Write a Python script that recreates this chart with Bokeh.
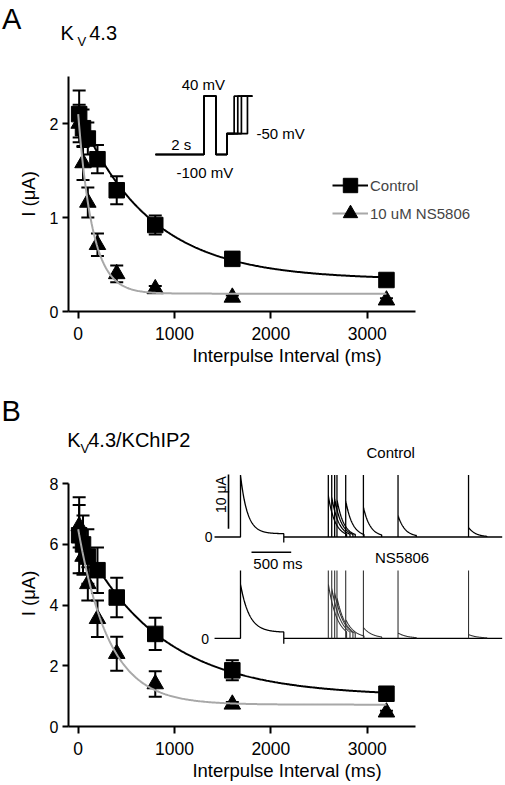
import math
import numpy as np
from bokeh.plotting import figure
from bokeh.models import (Range1d, ColumnDataSource, Whisker, TeeHead, Legend,
                          LegendItem, Label, FixedTicker)
from bokeh.layouts import column
from bokeh.embed import file_html
from bokeh.resources import INLINE

FONT = "Liberation Sans"

# ---------------- data ----------------
intervals = [10, 50, 100, 200, 400, 800, 1600, 3200]  # ms

a_control = [2.10, 1.95, 1.84, 1.62, 1.29, 0.92, 0.56, 0.335]
a_control_err = [0.25, 0.20, 0.17, 0.15, 0.15, 0.10, 0.03, 0.02]
a_ns5806 = [2.00, 1.58, 1.16, 0.71, 0.40, 0.24, 0.15, 0.12]
a_ns5806_err = [0.20, 0.18, 0.16, 0.12, 0.09, 0.03, 0.02, 0.02]

b_control = [6.30, 6.00, 5.60, 5.15, 4.25, 3.05, 1.85, 1.08]
b_control_err = [1.25, 0.95, 0.90, 0.75, 0.65, 0.53, 0.33, 0.10]
b_ns5806 = [6.60, 5.60, 4.70, 3.55, 2.40, 1.40, 0.73, 0.47]
b_ns5806_err = [0.70, 0.60, 0.55, 0.60, 0.56, 0.42, 0.08, 0.05]

# mono-exponential fits: (plateau, amplitude, tau in ms)
a_control_fit = (0.34, 1.77, 740)
a_ns5806_fit = (0.19, 1.91, 148)
b_control_fit = (1.00, 5.40, 830)
b_ns5806_fit = (0.72, 5.78, 320)

x_ticks = [0, 1000, 2000, 3000]
a_y_ticks = [0, 1, 2]
b_y_ticks = [0, 2, 4, 6, 8]
x_bounds = (-100, 3500)
a_y_bounds = (0, 2.5)
b_y_bounds = (0, 8)

# voltage protocol (inset A): times in ms, voltages in mV
prot_hold = -100
prot_step = 40
prot_pre = -50
prot_pulse = (2000, 2500)
prot_pre_start = 2950
prot_test_times = [3250, 3400, 3550, 3800]
prot_end = 4000

# current traces (inset B): times in ms, currents in uA
tr_start, tr_end = -327, 3296
cond_end = 545
test_times = [1106, 1149, 1186, 1215, 1325, 1548, 1984, 2872]
test_dur = 230
tail_dip = -1.0
ctrl_spike, ctrl_first_sus, ctrl_tau = 11.4, 0.6, 86
ctrl_test_amp = [7.6, 7.4, 7.1, 6.9, 6.7, 5.5, 4.0, 1.8]
ns_spike, ns_first_amp, ns_first_sus, ns_tau = 12.5, 10.0, 1.1, 110
ns_test_amp = [10.0, 9.3, 8.5, 7.5, 3.5, 2.0, 1.0, 0.7]
scale_i = 10     # uA
scale_t = 500    # ms


# ---------------- layout helpers (page pixels) ----------------
class PxMap:
    def __init__(self, value, pixel, ppu, vertical=False):
        self.value, self.pixel, self.ppu, self.vertical = value, pixel, ppu, vertical

    def __call__(self, p):
        d = (self.pixel - p) if self.vertical else (p - self.pixel)
        return self.value + d / self.ppu


W = 505
FRAME_L, FRAME_R = 68, 505
TA_TOP, TA_H = 0, 76
A_TOP, A_H, A_FT, A_FB = 76, 299, 76, 311
TB_TOP, TB_H = 375, 85
B_TOP, B_H, B_FT, B_FB = 460, 325, 460, 726

ident = PxMap(0, 0, 1)
mx = PxMap(0, 77.7, 0.09633)
myA = PxMap(0, A_FB, 94.0, True)
myB = PxMap(0, B_FB, 30.35, True)
m_pt = PxMap(0, 155, 0.0242)
m_pv = PxMap(-100, 154, 0.4167, True)
m_tt = PxMap(0, 240, 0.0794)
m_ci = PxMap(0, 536.5, 5.43, True)
m_ni = PxMap(0, 637.8, 5.43, True)


def title_fig(top, h):
    p = figure(width=W, height=h, x_range=Range1d(0, W), y_range=Range1d(top + h, top),
               output_backend="svg", toolbar_location=None,
               min_border_left=0, min_border_right=0, min_border_top=0,
               min_border_bottom=0, x_axis_location=None, y_axis_location=None)
    p.frame_align = False
    p.outline_line_color = None
    p.grid.visible = False
    return p


def make_fig(top, h, ft, fb, my, yticks, ybounds):
    p = figure(width=W, height=h,
               x_range=Range1d(mx(FRAME_L), mx(FRAME_R)),
               y_range=Range1d(my(fb), my(ft)),
               output_backend="svg", toolbar_location=None,
               min_border_left=FRAME_L, min_border_right=W - FRAME_R,
               min_border_top=ft - top, min_border_bottom=top + h - fb)
    p.frame_align = False
    p.outline_line_color = None
    p.grid.visible = False
    for ax in p.axis:
        ax.axis_line_width = 2
        ax.major_tick_line_width = 2
        ax.minor_tick_line_color = None
        ax.major_tick_in = 0
        ax.major_label_text_font = FONT
        ax.major_label_text_color = "black"
        ax.axis_label_text_font = FONT
        ax.axis_label_text_font_size = "18.5px"
        ax.axis_label_text_font_style = "normal"
        ax.axis_label_text_color = "black"
    p.xaxis.ticker = FixedTicker(ticks=x_ticks)
    p.xaxis.bounds = x_bounds
    p.xaxis.major_tick_out = 7
    p.xaxis.major_label_standoff = 8
    p.xaxis.major_label_text_font_size = "17.5px"
    p.xaxis.axis_label = "Interpulse Interval (ms)"
    p.xaxis.axis_label_standoff = 2
    p.yaxis.ticker = FixedTicker(ticks=yticks)
    p.yaxis.bounds = ybounds
    p.yaxis.major_tick_out = 6
    p.yaxis.major_label_standoff = 4
    p.yaxis.major_label_text_font_size = "16px"
    p.yaxis.axis_label = "I (μA)"
    p.yaxis.axis_label_standoff = 8
    return p


def add_text(p, xm, ym, px, py, text, size, xr="default", yr="default",
             align="left", angle=0.0):
    # py is the vertical centre of the text
    p.add_layout(Label(x=xm(px), y=ym(py), x_range_name=xr, y_range_name=yr,
                       text=text, text_font=FONT, text_font_size=size,
                       text_align=align, text_baseline="middle", angle=angle,
                       text_color="black"))


def fit_curve(params):
    c, a, tau = params
    xs = np.linspace(0, intervals[-1], 300)
    return xs, c + a * np.exp(-xs / tau)


def plot_series(p, ctrl, ctrl_err, ns, ns_err, ctrl_fit, ns_fit):
    for vals, errs in ((ctrl, ctrl_err), (ns, ns_err)):
        src = ColumnDataSource(dict(x=intervals,
                                    upper=[v + e for v, e in zip(vals, errs)],
                                    lower=[v - e for v, e in zip(vals, errs)]))
        p.add_layout(Whisker(base="x", upper="upper", lower="lower", source=src,
                             line_width=2, line_color="black",
                             upper_head=TeeHead(size=13, line_width=2, line_color="black"),
                             lower_head=TeeHead(size=13, line_width=2, line_color="black")))
    sc_c = p.scatter(intervals, ctrl, marker="square", size=15.5, color="black")
    sc_n = p.scatter(intervals, ns, marker="triangle", size=16.5, color="black")
    fx, fy = fit_curve(ctrl_fit)
    ln_c = p.line(fx, fy, line_width=2, color="black")
    fx, fy = fit_curve(ns_fit)
    ln_n = p.line(fx, fy, line_width=2, color="#a8a8a8")
    return sc_c, sc_n, ln_c, ln_n


def legend_row(label, renderers, y):
    return Legend(items=[LegendItem(label=label, renderers=renderers)],
                  location=(264, y), glyph_width=36, glyph_height=36,
                  padding=0, margin=0, label_standoff=2,
                  label_text_font=FONT, label_text_font_size="15px",
                  background_fill_alpha=0, border_line_color=None)


# ---------------- Title A ----------------
tA = title_fig(TA_TOP, TA_H)
add_text(tA, ident, ident, 1.5, 18.7, "A", "29px")
add_text(tA, ident, ident, 60, 32.7, "K", "20px")
add_text(tA, ident, ident, 77, 40.5, "V", "13px")
add_text(tA, ident, ident, 88.7, 32.7, "4.3", "20px")

# ---------------- Panel A ----------------
pA = make_fig(A_TOP, A_H, A_FT, A_FB, myA, a_y_ticks, a_y_bounds)
sc_c, sc_n, ln_c, ln_n = plot_series(pA, a_control, a_control_err, a_ns5806,
                                     a_ns5806_err, a_control_fit, a_ns5806_fit)
pA.add_layout(legend_row("Control", [ln_c, sc_c], A_FB - 203))
pA.add_layout(legend_row("10 uM NS5806", [ln_n, sc_n], A_FB - 231))

# protocol inset
pA.extra_x_ranges = {"pt": Range1d(m_pt(FRAME_L), m_pt(FRAME_R))}
pA.extra_y_ranges = {"pv": Range1d(m_pv(A_FB), m_pv(A_FT))}
pxs, pys = [], []
for tt in prot_test_times:
    pxs.append([0, prot_pulse[0], prot_pulse[0], prot_pulse[1], prot_pulse[1],
                prot_pre_start, prot_pre_start, tt, tt, prot_end])
    pys.append([prot_hold, prot_hold, prot_step, prot_step, prot_hold,
                prot_hold, prot_pre, prot_pre, prot_step, prot_step])
pA.multi_line(pxs, pys, x_range_name="pt", y_range_name="pv",
              line_width=1.7, line_color="black")

add_text(pA, m_pt, m_pv, 181.2, 84.2, "40 mV", "15px", "pt", "pv")
add_text(pA, m_pt, m_pv, 170.7, 144.3, "2 s", "15px", "pt", "pv")
add_text(pA, m_pt, m_pv, 176.0, 171.7, "-100 mV", "15px", "pt", "pv")
add_text(pA, m_pt, m_pv, 256.0, 133.3, "-50 mV", "15px", "pt", "pv")

# ---------------- Title B ----------------
tB = title_fig(TB_TOP, TB_H)
add_text(tB, ident, ident, 1.0, 410.9, "B", "29px")
add_text(tB, ident, ident, 66.7, 439.2, "K", "20px")
add_text(tB, ident, ident, 80, 448.4, "V", "13px")
add_text(tB, ident, ident, 87.7, 439.2, "4.3/KChIP2", "20px")
add_text(tB, ident, ident, 366.0, 451.7, "Control", "15px")

# ---------------- Panel B ----------------
pB = make_fig(B_TOP, B_H, B_FT, B_FB, myB, b_y_ticks, b_y_bounds)
plot_series(pB, b_control, b_control_err, b_ns5806, b_ns5806_err,
            b_control_fit, b_ns5806_fit)

pB.extra_x_ranges = {"tt": Range1d(m_tt(FRAME_L), m_tt(FRAME_R))}
pB.extra_y_ranges = {"ci": Range1d(m_ci(B_FB), m_ci(B_FT)),
                     "ni": Range1d(m_ni(B_FB), m_ni(B_FT))}


def first_sweep(spike, amp, sus, tau):
    td = np.linspace(0, cond_end, 150)
    xs = [tr_start, 0, 0, 0] + list(td) + [cond_end, cond_end, tr_end]
    ys = [0, 0, spike, amp] + list(sus + (amp - sus) * np.exp(-td / tau)) + [tail_dip, 0, 0]
    return xs, ys


def test_sweeps(spike, amps, tau):
    xs_all, ys_all = [], []
    for T, a in zip(test_times, amps):
        td = np.linspace(0, test_dur, 60)
        xs_all.append([T, T, T] + list(T + td) + [T + test_dur])
        ys_all.append([0, spike, a] + list(a * np.exp(-td / tau)) + [0])
    return xs_all, ys_all


fx, fy = first_sweep(ctrl_spike, ctrl_spike, ctrl_first_sus, ctrl_tau)
pB.line(fx, fy, x_range_name="tt", y_range_name="ci", line_width=1.3, color="black")
tx, ty = test_sweeps(ctrl_spike, ctrl_test_amp, ctrl_tau)
pB.multi_line(tx, ty, x_range_name="tt", y_range_name="ci", line_width=1.3, color="black")

fx, fy = first_sweep(ns_spike, ns_first_amp, ns_first_sus, ns_tau)
pB.line(fx, fy, x_range_name="tt", y_range_name="ni", line_width=1.3, color="black")
tx, ty = test_sweeps(ns_spike, ns_test_amp, ns_tau)
pB.multi_line(tx, ty, x_range_name="tt", y_range_name="ni", line_width=1.1, color="#333333")

# scale bars
bar_x = m_tt(228)
bar_y0 = m_ci(528.3)
pB.line([bar_x, bar_x], [bar_y0, bar_y0 + scale_i], x_range_name="tt", y_range_name="ci",
        line_width=1.6, color="black")
hb_x0 = m_tt(251)
hb_y = m_ci(551.7)
pB.line([hb_x0, hb_x0 + scale_t], [hb_y, hb_y], x_range_name="tt", y_range_name="ci",
        line_width=1.6, color="black")

add_text(pB, m_tt, m_ni, 374.5, 557.2, "NS5806", "15px", "tt", "ni")
add_text(pB, m_tt, m_ci, 252.8, 563.3, "500 ms", "15px", "tt", "ci")
add_text(pB, m_tt, m_ci, 212, 536.7, "0", "14px", "tt", "ci", align="right")
add_text(pB, m_tt, m_ni, 208.5, 638.3, "0", "14px", "tt", "ni", align="right")
add_text(pB, m_tt, m_ci, 220, 494, "10 μA", "14px", "tt", "ci", align="center",
         angle=math.pi / 2)

layout = column(tA, pA, tB, pB, spacing=0)
open("out.html", "w").write(file_html(layout, INLINE))
